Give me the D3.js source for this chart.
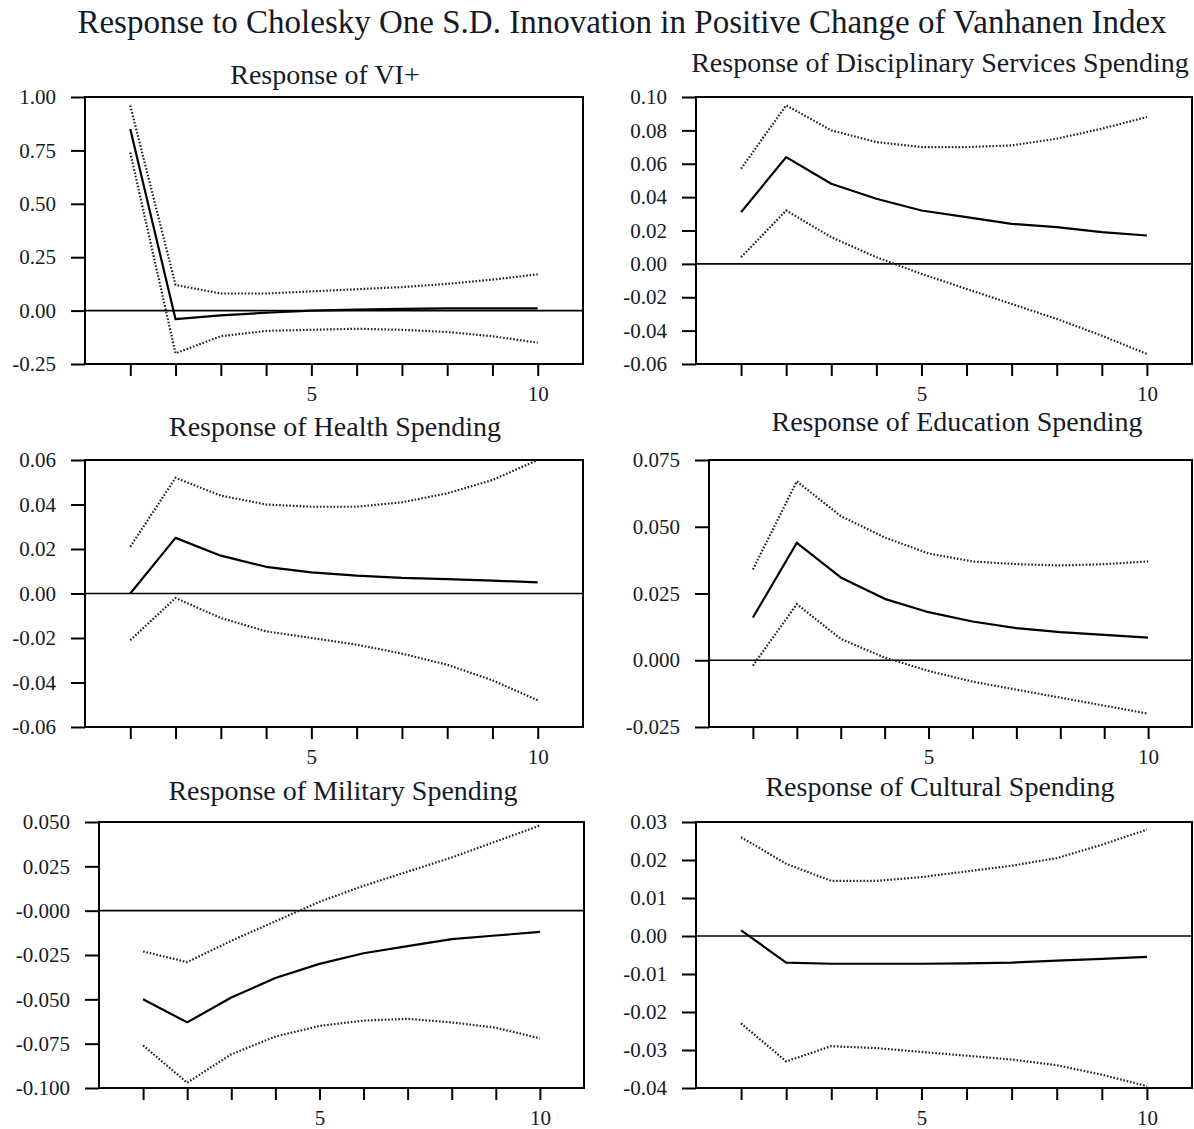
<!DOCTYPE html>
<html>
<head>
<meta charset="utf-8">
<script src="https://cdn.jsdelivr.net/npm/d3@7"></script>
<style>
  html, body { margin: 0; padding: 0; background: #fff; }
  svg text { font-family: "Liberation Serif", "DejaVu Serif", serif; fill: #151a28; }
</style>
</head>
<body>
<svg id="chart" width="1194" height="1129"></svg>
<script>
// ---------- DATA ----------
const mainTitle = "Response to Cholesky One S.D. Innovation in Positive Change of Vanhanen Index";
const periods = [1, 2, 3, 4, 5, 6, 7, 8, 9, 10];
const xTickLabels = ["5", "10"];

const panelTitles = [
  "Response of VI+",
  "Response of Disciplinary Services Spending",
  "Response of Health Spending",
  "Response of Education Spending",
  "Response of Military Spending",
  "Response of Cultural Spending"
];

// VI+
const viResp  = [0.85, -0.04, -0.022, -0.01, 0.0, 0.005, 0.008, 0.01, 0.01, 0.01];
const viUpper = [0.96, 0.12, 0.08, 0.08, 0.09, 0.10, 0.11, 0.125, 0.145, 0.17];
const viLower = [0.74, -0.20, -0.12, -0.095, -0.09, -0.085, -0.09, -0.10, -0.12, -0.15];
const viTicks = [1.00, 0.75, 0.50, 0.25, 0.00, -0.25];
const viTickLabels = ["1.00", "0.75", "0.50", "0.25", "0.00", "-0.25"];

// Disciplinary services
const discResp  = [0.031, 0.064, 0.048, 0.039, 0.032, 0.028, 0.024, 0.022, 0.019, 0.017];
const discUpper = [0.057, 0.095, 0.080, 0.073, 0.070, 0.070, 0.071, 0.075, 0.081, 0.088];
const discLower = [0.004, 0.032, 0.016, 0.004, -0.006, -0.015, -0.024, -0.033, -0.043, -0.054];
const discTicks = [0.10, 0.08, 0.06, 0.04, 0.02, 0.00, -0.02, -0.04, -0.06];
const discTickLabels = ["0.10", "0.08", "0.06", "0.04", "0.02", "0.00", "-0.02", "-0.04", "-0.06"];

// Health
const healthResp  = [0.000, 0.025, 0.017, 0.012, 0.0095, 0.008, 0.007, 0.0065, 0.0058, 0.005];
const healthUpper = [0.021, 0.052, 0.044, 0.040, 0.039, 0.039, 0.041, 0.045, 0.051, 0.060];
const healthLower = [-0.021, -0.002, -0.011, -0.017, -0.020, -0.023, -0.027, -0.032, -0.039, -0.048];
const healthTicks = [0.06, 0.04, 0.02, 0.00, -0.02, -0.04, -0.06];
const healthTickLabels = ["0.06", "0.04", "0.02", "0.00", "-0.02", "-0.04", "-0.06"];

// Education
const eduResp  = [0.016, 0.044, 0.031, 0.023, 0.018, 0.0145, 0.012, 0.0105, 0.0095, 0.0085];
const eduUpper = [0.034, 0.067, 0.054, 0.046, 0.040, 0.037, 0.036, 0.0355, 0.036, 0.037];
const eduLower = [-0.002, 0.021, 0.008, 0.001, -0.004, -0.008, -0.011, -0.014, -0.017, -0.020];
const eduTicks = [0.075, 0.050, 0.025, 0.000, -0.025];
const eduTickLabels = ["0.075", "0.050", "0.025", "0.000", "-0.025"];

// Military
const milResp  = [-0.050, -0.063, -0.049, -0.038, -0.030, -0.024, -0.020, -0.016, -0.014, -0.012];
const milUpper = [-0.023, -0.029, -0.017, -0.006, 0.005, 0.014, 0.022, 0.030, 0.039, 0.048];
const milLower = [-0.076, -0.097, -0.081, -0.071, -0.065, -0.062, -0.061, -0.063, -0.066, -0.072];
const milTicks = [0.050, 0.025, 0.000, -0.025, -0.050, -0.075, -0.100];
const milTickLabels = ["0.050", "0.025", "-0.000", "-0.025", "-0.050", "-0.075", "-0.100"];

// Cultural
const culResp  = [0.0015, -0.007, -0.0073, -0.0073, -0.0073, -0.0072, -0.007, -0.0065, -0.006, -0.0055];
const culUpper = [0.026, 0.019, 0.0145, 0.0145, 0.0155, 0.017, 0.0185, 0.0205, 0.024, 0.028];
const culLower = [-0.023, -0.033, -0.029, -0.0295, -0.0305, -0.0315, -0.0325, -0.034, -0.0365, -0.0395];
const culTicks = [0.03, 0.02, 0.01, 0.00, -0.01, -0.02, -0.03, -0.04];
const culTickLabels = ["0.03", "0.02", "0.01", "0.00", "-0.01", "-0.02", "-0.03", "-0.04"];

// ---------- LAYOUT ----------
const panels = [
  { title: panelTitles[0], resp: viResp, up: viUpper, lo: viLower, ticks: viTicks, labels: viTickLabels,
    box: { l: 85, r: 583, t: 97, b: 364 }, titleX: 325, titleY: 84 },
  { title: panelTitles[1], resp: discResp, up: discUpper, lo: discLower, ticks: discTicks, labels: discTickLabels,
    box: { l: 696, r: 1192, t: 97, b: 364 }, titleX: 940, titleY: 72 },
  { title: panelTitles[2], resp: healthResp, up: healthUpper, lo: healthLower, ticks: healthTicks, labels: healthTickLabels,
    box: { l: 85, r: 583, t: 460, b: 727 }, titleX: 335, titleY: 436 },
  { title: panelTitles[3], resp: eduResp, up: eduUpper, lo: eduLower, ticks: eduTicks, labels: eduTickLabels,
    box: { l: 709, r: 1192, t: 460, b: 727 }, titleX: 957, titleY: 431 },
  { title: panelTitles[4], resp: milResp, up: milUpper, lo: milLower, ticks: milTicks, labels: milTickLabels,
    box: { l: 99, r: 584, t: 822, b: 1088 }, titleX: 343, titleY: 800 },
  { title: panelTitles[5], resp: culResp, up: culUpper, lo: culLower, ticks: culTicks, labels: culTickLabels,
    box: { l: 696, r: 1192, t: 822, b: 1088 }, titleX: 940, titleY: 796 }
];

const svg = d3.select("#chart");

svg.append("text")
  .attr("x", 622).attr("y", 33)
  .attr("text-anchor", "middle")
  .attr("font-size", 33)
  .text(mainTitle);

panels.forEach(p => {
  const b = p.box;
  const x = d3.scaleLinear().domain([0, 11]).range([b.l, b.r]);
  const yMin = d3.min(p.ticks), yMax = d3.max(p.ticks);
  const y = d3.scaleLinear().domain([yMin, yMax]).range([b.b, b.t]);
  const g = svg.append("g");

  g.append("text")
    .attr("x", p.titleX).attr("y", p.titleY)
    .attr("text-anchor", "middle")
    .attr("font-size", 28)
    .text(p.title);

  // y axis (ticks outside the left edge)
  const yAxis = d3.axisLeft(y)
    .tickValues(p.ticks)
    .tickSize(14)
    .tickPadding(15)
    .tickFormat((d, i) => p.labels[i]);
  const ya = g.append("g").attr("transform", `translate(${b.l},0)`).call(yAxis);
  ya.select(".domain").remove();
  ya.selectAll("line").attr("stroke", "#000").attr("stroke-width", 2);
  ya.selectAll("text").attr("font-size", 21).style("font-family", '"Liberation Serif", serif').attr("fill", "#151a28");

  // x axis (ticks below the bottom edge)
  const xAxis = d3.axisBottom(x)
    .tickValues(periods)
    .tickSize(12)
    .tickPadding(10)
    .tickFormat(d => xTickLabels.includes(String(d)) ? String(d) : "");
  const xa = g.append("g").attr("transform", `translate(0,${b.b})`).call(xAxis);
  xa.select(".domain").remove();
  xa.selectAll("line").attr("stroke", "#000").attr("stroke-width", 2);
  xa.selectAll("text").attr("font-size", 21).style("font-family", '"Liberation Serif", serif').attr("fill", "#151a28");

  // zero line
  g.append("line")
    .attr("x1", b.l).attr("x2", b.r)
    .attr("y1", y(0)).attr("y2", y(0))
    .attr("stroke", "#000").attr("stroke-width", 1.6);

  const line = d3.line().x((d, i) => x(periods[i])).y(d => y(d));

  [p.up, p.lo].forEach(band => {
    g.append("path")
      .attr("d", line(band))
      .attr("fill", "none")
      .attr("stroke", "#222")
      .attr("stroke-width", 2.2)
      .attr("stroke-dasharray", "1.6,1.8");
  });

  g.append("path")
    .attr("d", line(p.resp))
    .attr("fill", "none")
    .attr("stroke", "#000")
    .attr("stroke-width", 2.2)
    .attr("stroke-linejoin", "round");

  // frame
  g.append("rect")
    .attr("x", b.l).attr("y", b.t)
    .attr("width", b.r - b.l).attr("height", b.b - b.t)
    .attr("fill", "none").attr("stroke", "#000").attr("stroke-width", 2);
});
</script>
</body>
</html>
